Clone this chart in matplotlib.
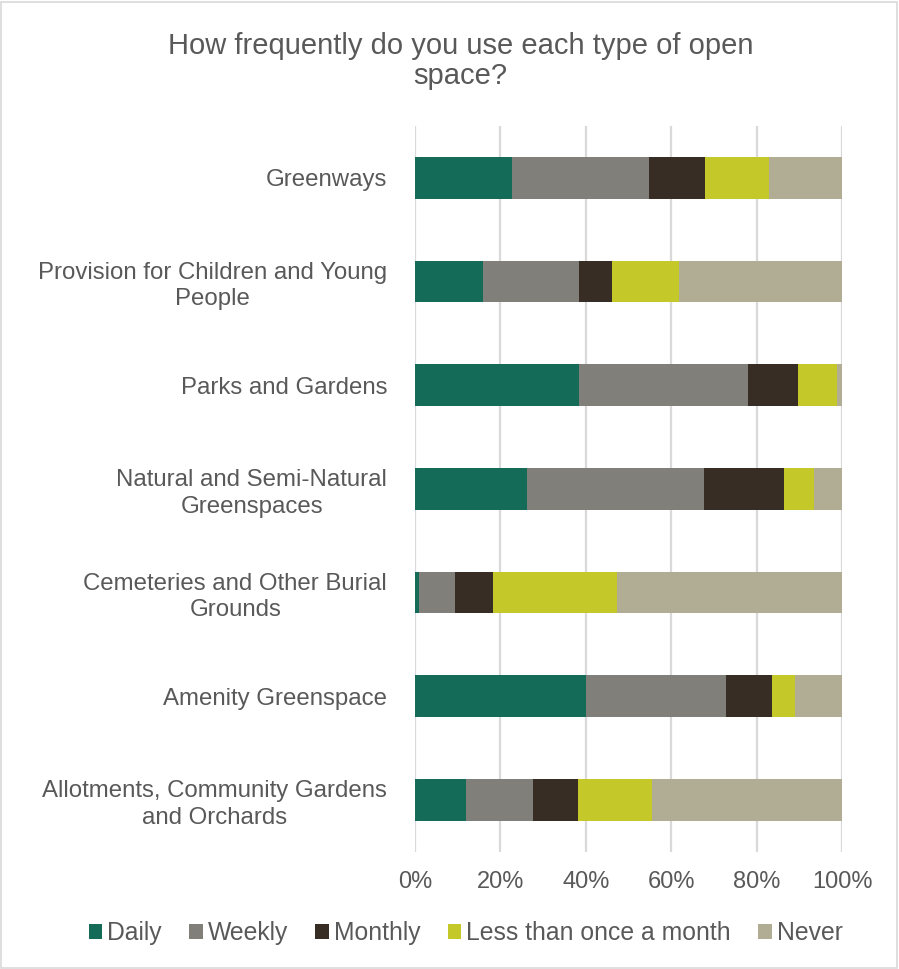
import matplotlib.pyplot as plt
from matplotlib.patches import Rectangle
import numpy as np

plt.rcParams['font.family'] = ['Liberation Sans', 'DejaVu Sans']

categories = [
    'Greenways',
    'Provision for Children and Young\nPeople',
    'Parks and Gardens',
    'Natural and Semi-Natural\nGreenspaces',
    'Cemeteries and Other Burial\nGrounds',
    'Amenity Greenspace',
    'Allotments, Community Gardens\nand Orchards',
]
series_names = ['Daily', 'Weekly', 'Monthly', 'Less than once a month', 'Never']
daily = [22.7, 15.9, 38.5, 26.3, 0.9, 40.1, 12.0]
weekly = [32.1, 22.5, 39.5, 41.4, 8.5, 32.7, 15.7]
monthly = [13.2, 7.8, 11.7, 18.8, 8.8, 10.9, 10.5]
less_monthly = [14.9, 15.6, 9.1, 6.9, 29.2, 5.4, 17.3]
never = [17.1, 38.2, 1.2, 6.6, 52.6, 10.9, 44.5]
colors = ['#136B58', '#807F7A', '#382D24', '#C4C828', '#B1AC94']

text_color = '#595959'

fig = plt.figure(figsize=(8.99, 9.69), dpi=100)
ax = fig.add_axes([0.4616, 0.121, 0.475, 0.749])

y = np.arange(len(categories))
left = np.zeros(len(categories))
for name, vals, col in zip(series_names,
                           [daily, weekly, monthly, less_monthly, never],
                           colors):
    ax.barh(y, vals, left=left, height=0.4, color=col, label=name, zorder=3)
    left += np.array(vals)

ax.set_ylim(len(categories) - 0.5, -0.5)
ax.set_xlim(0, 100)
ax.set_xticks(np.arange(0, 101, 20))
ax.set_xticklabels([f'{v}%' for v in range(0, 101, 20)])
ax.set_yticks(y)
ax.set_yticklabels(categories, multialignment='center', linespacing=1.25)
ax.tick_params(axis='y', length=0, pad=20, labelsize=17.3, labelcolor=text_color)
ax.tick_params(axis='x', length=0, pad=14, labelsize=17, labelcolor=text_color)
ax.xaxis.grid(True, color='#D9D9D9', linewidth=1.6, zorder=0)
for s in ax.spines.values():
    s.set_visible(False)

fig.text(0.512, 0.937, 'How frequently do you use each type of open\nspace?',
         ha='center', va='center', fontsize=21, color=text_color,
         linespacing=1.1)

ax.legend(loc='center', bbox_to_anchor=(0.518, 0.037),
          bbox_transform=fig.transFigure, ncol=5, frameon=False,
          fontsize=17.8, labelcolor=text_color, handlelength=0.55,
          handleheight=0.55, handletextpad=0.2, columnspacing=1.1)

fig.patches.append(Rectangle((0.001, 0.001), 0.997, 0.997,
                             transform=fig.transFigure, fill=False,
                             edgecolor='#D9D9D9', linewidth=1.2))

fig.savefig('out.png', dpi=100)
